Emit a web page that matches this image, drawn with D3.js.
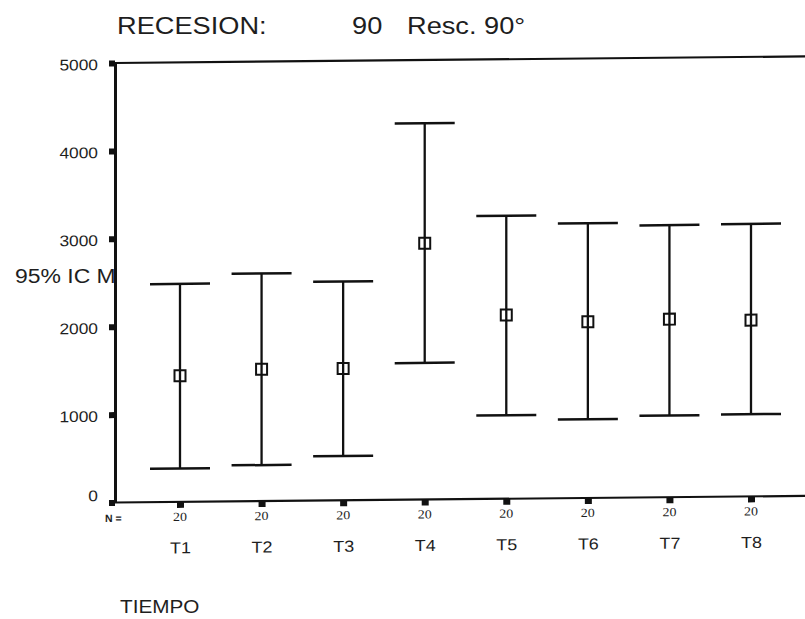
<!DOCTYPE html>
<html>
<head>
<meta charset="utf-8">
<script src="https://cdn.jsdelivr.net/npm/d3@7"></script>
<style>
  html, body { margin: 0; padding: 0; background: #fff; }
  svg { display: block; }
</style>
</head>
<body>
<svg id="chart" width="805" height="619"></svg>
<script>
// ---- data ----
const categories = ["T1", "T2", "T3", "T4", "T5", "T6", "T7", "T8"];
const meanValues = [1435, 1500, 1500, 2915, 2090, 2005, 2025, 2005];
const lowerValues = [380, 410, 505, 1555, 950, 895, 930, 935];
const upperValues = [2480, 2590, 2490, 4280, 3220, 3125, 3095, 3100];
const nValues = [20, 20, 20, 20, 20, 20, 20, 20];
const yTicks = [0, 1000, 2000, 3000, 4000, 5000];

const rows = categories.map((c, i) => ({
  cat: c, mean: meanValues[i], lo: lowerValues[i], hi: upperValues[i], n: nValues[i]
}));

const SX = 1.12; // horizontal stretch of the scanned text
const ink = "#111";
const textInk = "#1e1e1e";
const sans = "Arial, 'Liberation Sans', sans-serif";
const serif = "'Times New Roman', 'Liberation Serif', serif";

const svg = d3.select("#chart");
const x0 = 115, y0 = 502.5;

const x = d3.scalePoint().domain(categories).range([180, 751]);
const y = d3.scaleLinear().domain([0, 5000]).range([y0, 63]);

function stretched(sel, px, py, anchor) {
  return sel.attr("x", 0).attr("y", 0)
    .attr("text-anchor", anchor || "start")
    .attr("transform", `translate(${px},${py}) scale(${SX},1)`);
}

// Title
stretched(svg.append("text").text("RECESION:"), 117, 34)
  .attr("font-family", sans).attr("font-size", 24.3).attr("fill", textInk);
stretched(svg.append("text").text("90"), 352, 34)
  .attr("font-family", sans).attr("font-size", 24.3).attr("fill", textInk);
stretched(svg.append("text").text("Resc. 90°"), 407, 34)
  .attr("font-family", sans).attr("font-size", 24.3).attr("fill", textInk);

// Plot group with slight scan skew
const g = svg.append("g")
  .attr("transform", `translate(${x0},${y0}) skewY(-0.55) translate(${-x0},${-y0})`);

// top frame line
g.append("line")
  .attr("x1", x0).attr("x2", 805)
  .attr("y1", y(5000)).attr("y2", y(5000))
  .attr("stroke", ink).attr("stroke-width", 2.2);

// Y axis
const yAxisG = g.append("g")
  .attr("transform", `translate(${x0},0)`)
  .call(d3.axisLeft(y).tickValues(yTicks).tickSize(0).tickPadding(17).tickFormat(d3.format("d")));
yAxisG.select(".domain").attr("stroke", ink).attr("stroke-width", 3);
yAxisG.selectAll(".tick text")
  .attr("font-family", sans).attr("font-size", 15.5).attr("fill", textInk)
  .attr("x", -17 / SX)
  .attr("dy", "0.42em")
  .attr("transform", `scale(${SX},1)`)
  .attr("y", d => d === 0 ? -8.5 : 0);
yAxisG.selectAll(".tick").append("rect")
  .attr("x", -6).attr("y", -3).attr("width", 6).attr("height", 6)
  .attr("fill", ink);

// X axis
const xAxisG = g.append("g")
  .attr("transform", `translate(0,${y0})`)
  .call(d3.axisBottom(x).tickSize(0));
xAxisG.select(".domain").attr("d", `M${x0},0H805`)
  .attr("stroke", ink).attr("stroke-width", 2.2);
xAxisG.selectAll(".tick text")
  .attr("font-family", sans).attr("font-size", 16).attr("fill", textInk)
  .attr("y", 554 - y0).attr("dy", 0)
  .attr("transform", `scale(${SX},1)`);
xAxisG.selectAll(".tick").append("rect")
  .attr("x", -3.5).attr("y", 0).attr("width", 7).attr("height", 6)
  .attr("fill", ink);

// N labels
g.append("text").text("N =")
  .attr("x", 105).attr("y", 522)
  .attr("font-family", sans).attr("font-size", 10.5).attr("font-weight", "bold")
  .attr("fill", textInk);
g.selectAll("text.nlab").data(rows).join("text")
  .attr("class", "nlab")
  .text(d => d.n)
  .attr("text-anchor", "middle")
  .attr("x", 0).attr("y", 0)
  .attr("transform", d => `translate(${x(d.cat)},521.5) scale(${SX},1)`)
  .attr("font-family", serif).attr("font-size", 12.5).attr("fill", textInk);

// Error bars
const capHalf = 30;
const bars = g.selectAll("g.bar").data(rows).join("g").attr("class", "bar");
bars.append("line")
  .attr("x1", d => x(d.cat)).attr("x2", d => x(d.cat))
  .attr("y1", d => y(d.hi)).attr("y2", d => y(d.lo))
  .attr("stroke", ink).attr("stroke-width", 2.3);
bars.append("line")
  .attr("x1", d => x(d.cat) - capHalf).attr("x2", d => x(d.cat) + capHalf)
  .attr("y1", d => y(d.hi)).attr("y2", d => y(d.hi))
  .attr("stroke", ink).attr("stroke-width", 2.5);
bars.append("line")
  .attr("x1", d => x(d.cat) - capHalf).attr("x2", d => x(d.cat) + capHalf)
  .attr("y1", d => y(d.lo)).attr("y2", d => y(d.lo))
  .attr("stroke", ink).attr("stroke-width", 2.5);
bars.append("rect")
  .attr("x", d => x(d.cat) - 5.5).attr("y", d => y(d.mean) - 5.5)
  .attr("width", 11).attr("height", 11)
  .attr("fill", "none").attr("stroke", ink).attr("stroke-width", 2);

// Y label (touching the axis)
stretched(svg.append("text").text("95% IC M"), 15, 283)
  .attr("font-family", sans).attr("font-size", 20.5).attr("fill", textInk);

// X title
stretched(svg.append("text").text("TIEMPO"), 120, 613)
  .attr("font-family", sans).attr("font-size", 18.5).attr("fill", textInk);
</script>
</body>
</html>
